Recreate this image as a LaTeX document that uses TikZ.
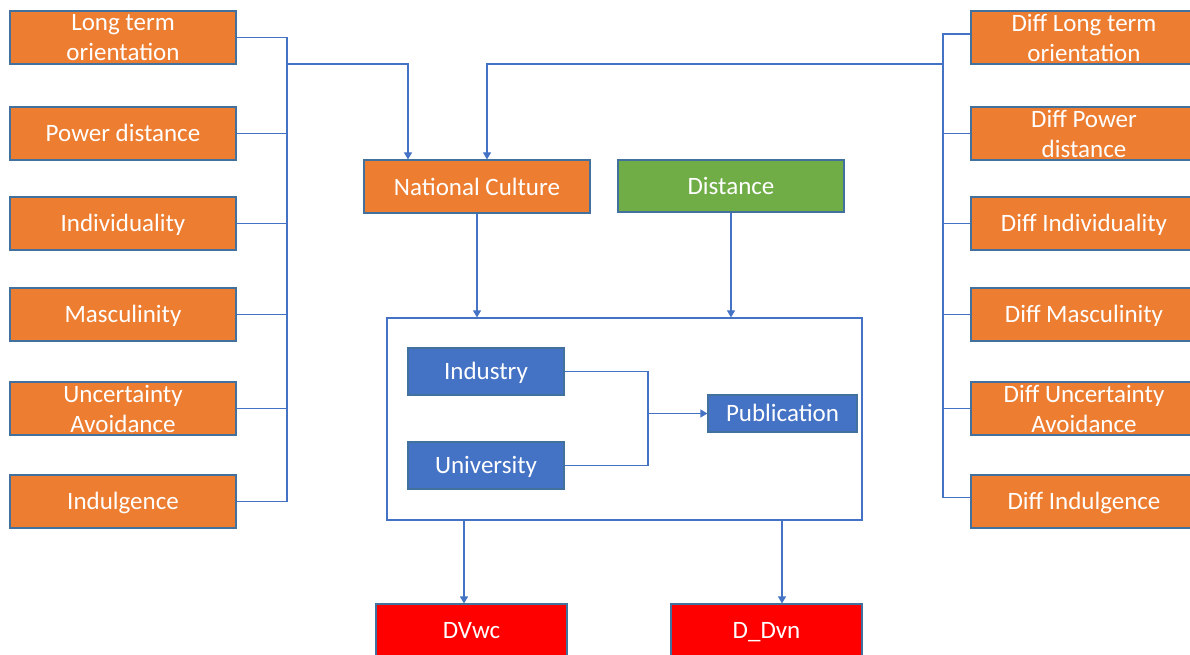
\documentclass[tikz,border=0pt]{standalone}
\usepackage{fontspec}
\setmainfont{Carlito}
\usetikzlibrary{arrows.meta,calc}
\definecolor{ora}{HTML}{ED7D31}
\definecolor{bord}{HTML}{41719C}
\definecolor{lin}{HTML}{4472C4}
\definecolor{blu}{HTML}{4472C4}
\definecolor{grn}{HTML}{70AD47}
\definecolor{rd}{HTML}{FF0000}
\tikzset{
  box/.style={draw=bord, line width=1.2pt, text=white, inner sep=0pt, align=center,
    font=\fontsize{25}{30}\selectfont},
  sl/.style={text height=20pt, text depth=4pt},
  obox/.style={box, fill=ora, minimum width=226pt, minimum height=53pt},
  conn/.style={draw=lin, line width=1.2pt},
  arr/.style={conn, -{Triangle[width=8pt,length=7pt]}},
}
\begin{document}
\begin{tikzpicture}[x=1pt,y=-1pt]
\clip (0,0) rectangle (1190,655);
\useasboundingbox (0,0) rectangle (1190,655);
% left column
\node[obox] (lto) at (123,37.5) {Long term\\orientation};
\node[obox,sl] (pd) at (123,133.5) {Power distance};
\node[obox,sl] (idv) at (123,223.5) {Individuality};
\node[obox,sl] (mas) at (123,314.5) {Masculinity};
\node[obox] (ua) at (123,408.5) {Uncertainty\\Avoidance};
\node[obox,sl] (ind) at (123,501.5) {Indulgence};
% right column
\node[obox] (dlto) at (1084,37.5) {Diff Long term\\orientation};
\node[obox] (dpd) at (1084,133.5) {Diff Power\\distance};
\node[obox,sl] (didv) at (1084,223.5) {Diff Individuality};
\node[obox,sl] (dmas) at (1084,314.5) {Diff Masculinity};
\node[obox] (dua) at (1084,408.5) {Diff Uncertainty\\Avoidance};
\node[obox,sl] (dind) at (1084,501.5) {Diff Indulgence};
% middle
\node[obox,sl,text height=22pt,text depth=3pt] (nc) at (477,186.5) {National Culture};
\node[box, sl, fill=grn, minimum width=226pt, minimum height=52pt] (dist) at (731,186) {Distance};
\node[draw=lin, line width=1.2pt, minimum width=475pt, minimum height=202pt, inner sep=0pt] (frame) at (624.5,419) {};
\node[box, sl, fill=blu, minimum width=156pt, minimum height=47pt] (indu) at (486,371.5) {Industry};
\node[box, sl, fill=blu, minimum width=156pt, minimum height=47pt] (univ) at (486,465.5) {University};
\node[box, sl, fill=blu, minimum width=149pt, minimum height=37pt] (pub) at (782.5,413.5) {Publication};
\node[box, sl, fill=rd, minimum width=191pt, minimum height=53pt] (dvwc) at (471.5,630.5) {DVwc};
\node[box, sl, fill=rd, minimum width=191pt, minimum height=53pt] (ddvn) at (766.5,630.5) {D\_Dvn};
% left bus
\coordinate (lb1) at (287,37.5);
\coordinate (lb6) at (287,501.5);
\coordinate (lj) at (287,64);
\draw[conn] (lto.east) -- (lb1) -- (lb6) -- (ind.east);
\foreach \n in {pd,idv,mas,ua} \draw[conn] (\n.east) -- (\n.east -| lb1);
\draw[arr] (lj) -| ($(nc.north)+(-69,0)$);
% right bus
\coordinate (rb1) at (943,34);
\coordinate (rb6) at (943,497.5);
\coordinate (rj) at (943,64);
\draw[conn] (dlto.west |- rb1) -- (rb1) -- (rb6) -- (dind.west |- rb6);
\foreach \n in {dpd,didv,dmas,dua} \draw[conn] (\n.west) -- (\n.west -| rb1);
\draw[arr] (rj) -| ($(nc.north)+(10,0)$);
% into frame
\draw[arr] (nc.south) -- (nc.south |- frame.north);
\draw[arr] (dist.south) -- (dist.south |- frame.north);
% inner
\coordinate (ij1) at (648,371.5);
\coordinate (ij2) at (648,465.5);
\coordinate (ijm) at (648,413.5);
\draw[conn] (indu.east) -- (ij1) -- (ij2) -- (univ.east);
\draw[arr] (ijm) -- (pub.west);
% out of frame
\coordinate (f1) at (464,520);
\coordinate (f2) at (782,520);
\draw[arr] (f1) -- (f1 |- dvwc.north);
\draw[arr] (f2) -- (f2 |- ddvn.north);
\end{tikzpicture}
\end{document}
